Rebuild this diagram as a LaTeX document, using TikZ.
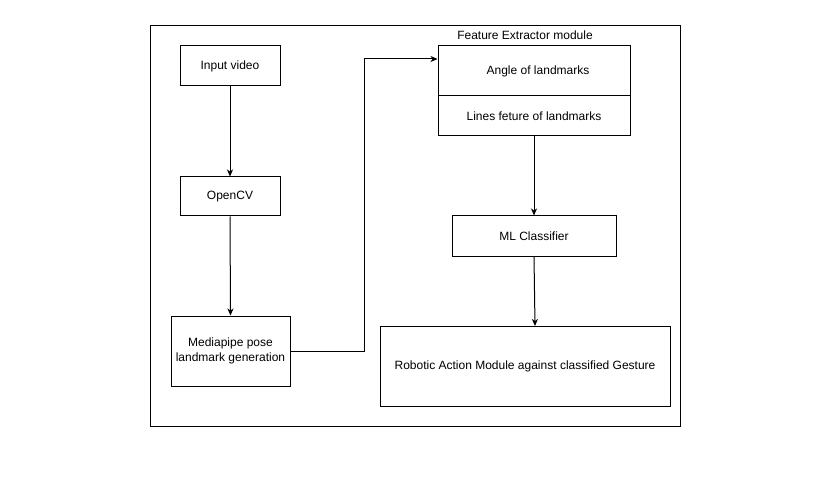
\documentclass[tikz,border=0pt]{standalone}
\usepackage{fontspec}
\setmainfont{Liberation Sans}
\usetikzlibrary{arrows.meta}
\begin{document}
\begin{tikzpicture}[x=1pt,y=-1pt,
  box/.style={draw,line width=1pt,inner sep=0pt,align=center,font=\fontsize{12}{15}\selectfont},
  conn/.style={line width=1pt,-{Stealth[length=7pt,width=6pt,inset=2pt]}}]
\useasboundingbox (0,0) rectangle (827,489);
\node[draw,line width=1pt,minimum width=530pt,minimum height=400pt,inner sep=0pt] (frame) at (415,226) {};
\node[box,minimum width=100pt,minimum height=40pt] (input) at (230,66) {Input video};
\node[box,minimum width=100pt,minimum height=39pt] (opencv) at (230,196.5) {OpenCV};
\node[box,minimum width=119pt,minimum height=70pt] (media) at (230.5,351) {Mediapipe pose\\landmark generation};
\node[box,minimum width=192pt,minimum height=50pt] (angle) at (534,71) {\hspace{8pt}Angle of landmarks};
\node[box,minimum width=192pt,minimum height=40pt] (lines) at (534,116) {Lines feture of landmarks};
\node[font=\fontsize{12}{14}\selectfont] (title) at (525,35) {Feature Extractor module};
\node[box,minimum width=164pt,minimum height=40pt] (ml) at (534,236) {ML Classifier};
\node[box,minimum width=290pt,minimum height=80pt] (robot) at (525,366) {Robotic Action Module against classified Gesture};
\coordinate (c1) at (364,351);
\coordinate (c2) at (364,59);
\draw[conn] (input.south) -- (opencv.north);
\draw[conn] (opencv.south) -- (media.north);
\draw[conn] (media.east) -- (c1) -- (c2) -- (c2 -| angle.west);
\draw[conn] (lines.south -| ml.north) -- (ml.north);
\draw[conn] (ml.south) -- (535,326);
\end{tikzpicture}
\end{document}
